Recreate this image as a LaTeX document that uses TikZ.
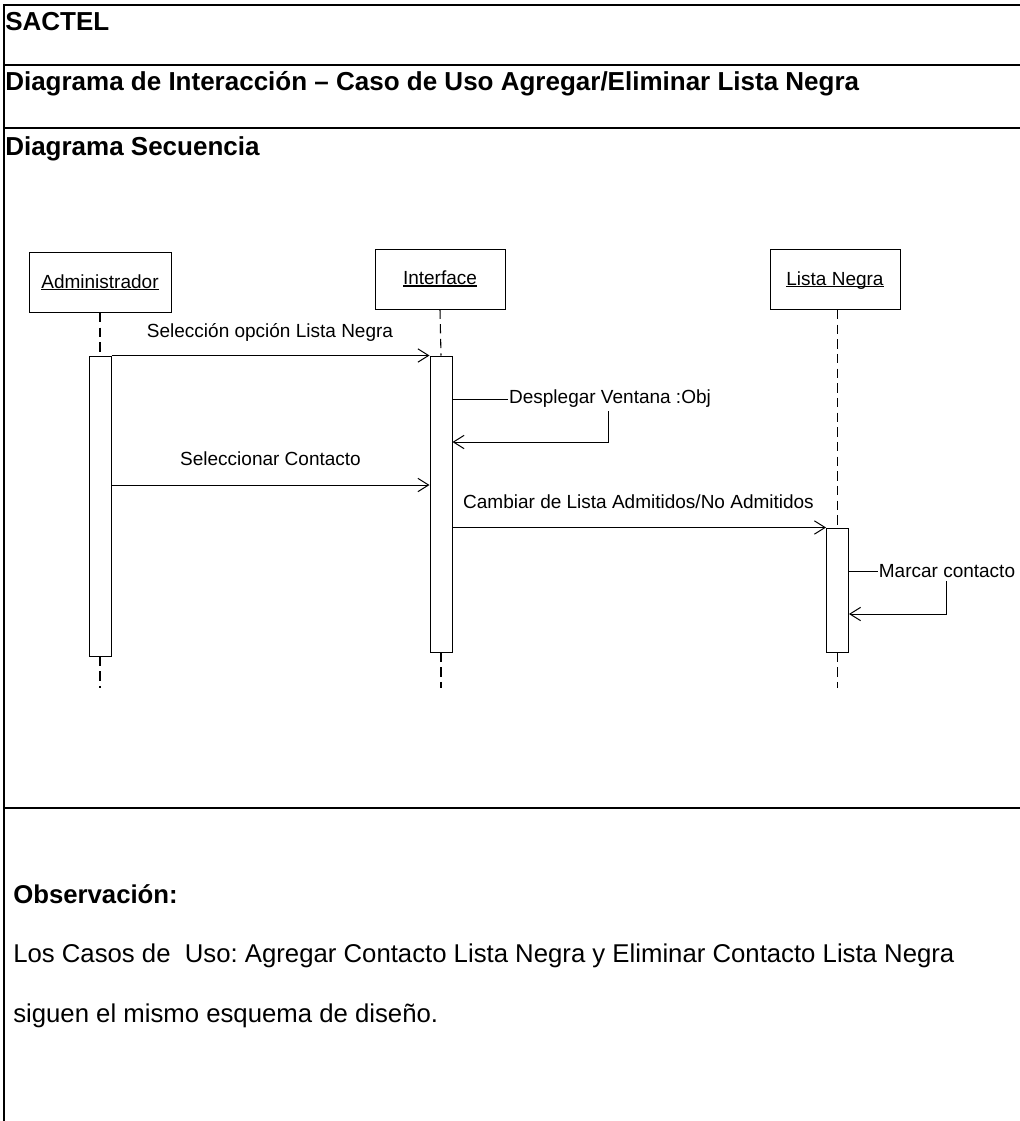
\documentclass[tikz,border=0pt]{standalone}
\usepackage{fontspec}
\setmainfont{Liberation Sans}
\usetikzlibrary{arrows.meta}
\frenchspacing
% underlined object name with the rule just below the baseline
\newcommand\objname[1]{\setbox0=\hbox{#1}\rlap{\rule[-1.6pt]{\wd0}{0.95pt}}\box0}
\begin{document}
\begin{tikzpicture}[x=0.75pt,y=-0.75pt,
  rule/.style={line width=2.2pt},
  headtxt/.style={anchor=base west,inner sep=0pt,font=\fontsize{19.5pt}{23pt}\selectfont\bfseries},
  bodytxt/.style={anchor=base west,inner sep=0pt,font=\fontsize{19.3pt}{23pt}\selectfont},
  actor/.style={draw,line width=0.7pt,minimum height=45pt,inner sep=0pt,
    text height=10.5pt,text depth=2.25pt,font=\fontsize{14.25pt}{17pt}\selectfont},
  act/.style={draw,fill=white,line width=0.75pt,minimum width=16.5pt,inner sep=0pt},
  life/.style={line width=0.8pt,dash pattern=on 7pt off 4pt},
  msg/.style={line width=0.75pt,-{Straight Barb[length=8pt,width=10pt,line width=0.75pt]}},
  lbl/.style={anchor=base,inner sep=0pt,font=\fontsize{14.25pt}{17pt}\selectfont},
  selflbl/.style={fill=white,inner xsep=0.5pt,inner ysep=2.4pt,font=\fontsize{14.25pt}{17pt}\selectfont}]
\useasboundingbox (0,0) rectangle (1020,1121);

% form frame
\draw[rule] (4,5) -- (1020,5);
\draw[rule] (3,65) -- (1020,65);
\draw[rule] (3,128) -- (1020,128);
\draw[rule] (3,808) -- (1020,808);
\draw[line width=2pt] (4,4) -- (4,1121);

\node[headtxt] (h1) at (5,30) {SACTEL};
\node[headtxt] (h2) at (5,90.5) {Diagrama de Interacción – Caso de Uso Agregar/Eliminar Lista Negra};
\node[headtxt] (h3) at (5,155) {Diagrama Secuencia};

% objects
\node[actor,minimum width=106.5pt] (adm) at (100,282.5) {\objname{Administrador}};
\node[actor,minimum width=97.5pt] (itf) at (440,279) {\objname{Interface}};
\node[actor,minimum width=97.5pt] (lst) at (835,279.5) {\objname{Lista Negra}};

% activations
\node[act,minimum height=225pt] (aA) at (100,506) {};
\node[act,minimum height=222pt] (aI) at (441,504) {};
\node[act,minimum height=93pt] (aL) at (837.5,590) {};

\coordinate (endA) at (100,688);
\coordinate (endI) at (441,688);
\coordinate (endL) at (837.5,688);

% lifelines
\draw[life] (adm.south) -- (aA.north);
\draw[life] (aA.south) -- (endA);
\draw[life] (itf.south) -- (aI.north);
\draw[life] (aI.south) -- (endI);
\draw[life] (lst.south -| aL.north) -- (aL.north);
\draw[life] (aL.south) -- (endL);

% messages
\draw[msg] (aA.north east) -- (aI.north west);
\node[lbl] (m1) at (270,337) {Selección opción Lista Negra};

\draw[msg] (aA.east |- 0,485) -- (aI.west |- 0,485);
\node[lbl] (m2) at (270.5,465) {Seleccionar Contacto};

\draw[msg] (aI.east |- aL.north) -- (aL.north west);
\node[lbl] (m3) at (638.5,508) {Cambiar de Lista Admitidos/No Admitidos};

% self calls
\coordinate (c1) at (608,399);
\draw[msg] (aI.east |- c1) -- (c1) -- (c1 |- 0,442) -- (aI.east |- 0,442);
\node[selflbl] (s1) at (610,399) {Desplegar Ventana :Obj};

\coordinate (c2) at (946,571);
\draw[msg] (aL.east |- c2) -- (c2) -- (c2 |- 0,614) -- (aL.east |- 0,614);
\node[selflbl] (s2) at (947,571) {Marcar contacto};

% remarks
\node[bodytxt,font=\fontsize{19.3pt}{23pt}\selectfont\bfseries] (o1) at (13,903) {Observación:};
\node[bodytxt] (o2) at (13,962) {Los Casos de~\ Uso: Agregar Contacto Lista Negra y Eliminar Contacto Lista Negra};
\node[bodytxt] (o3) at (13,1022) {siguen el mismo esquema de diseño.};
\end{tikzpicture}
\end{document}
